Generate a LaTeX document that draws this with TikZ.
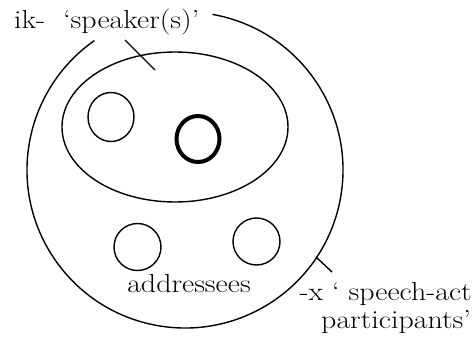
\documentclass[tikz,border=0pt]{standalone}
\usepackage{fontspec}
\setmainfont[FakeStretch=1.15]{Latin Modern Roman}
\begin{document}
\begin{tikzpicture}[x=1pt,y=-1pt,
  thinline/.style={line width=1.4pt},
  boldline/.style={line width=4pt},
  lbl/.style={inner sep=0pt,font=\fontsize{26}{29}\selectfont}]
\useasboundingbox (0,0) rectangle (475,343);
% outer circle (gap at top-left for the label)
\draw[thinline] (185,170) ++(-80:158) arc[start angle=-80,end angle=235,radius=158];
% speakers ellipse
\draw[thinline] (175,127) ellipse[x radius=113,y radius=75];
% speaker circles
\draw[thinline] (111,117) ellipse[x radius=23,y radius=24.5];
\draw[boldline] (198,139) ellipse[x radius=21.5,y radius=23];
% addressee circles
\draw[thinline] (137.5,247) circle[radius=23.5];
\draw[thinline] (256.5,241.5) circle[radius=23.5];
% ticks
\coordinate (t1a) at (125,40); \coordinate (t1b) at (155,70);
\coordinate (t2a) at (316,257); \coordinate (t2b) at (332,272);
\draw[thinline] (t1a) -- (t1b);
\draw[thinline] (t2a) -- (t2b);
% labels
\node[lbl,anchor=base west] (ik) at (14,28) {ik-\ \ ‘speaker(s)’};
\node[lbl,anchor=base] (addr) at (189,292) {addressees};
\node[lbl,anchor=base east] (x1) at (472,300) {-x ‘ speech-act};
\node[lbl,anchor=base east] (x2) at (471,328) {participants’};
\end{tikzpicture}
\end{document}
